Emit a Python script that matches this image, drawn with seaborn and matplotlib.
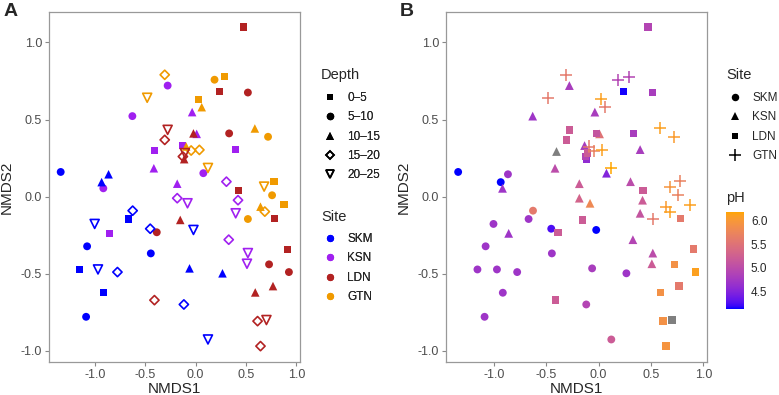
import numpy as np
import pandas as pd
import matplotlib
matplotlib.use("Agg")
import matplotlib.pyplot as plt
from matplotlib.lines import Line2D
from matplotlib.colors import LinearSegmentedColormap, Normalize
from matplotlib.colorbar import ColorbarBase
import seaborn as sns

sns.set_theme(style="white")
plt.rcParams["font.family"] = ["Liberation Sans", "DejaVu Sans"]

# ---- data ----
sites = ["SKM", "KSN", "LDN", "GTN"]
depths = ["0–5", "5–10", "10–15", "15–20", "20–25"]
site_colors = ["#0000FF", "#A020F0", "#B22222", "#F09A00"]

# groups of samples: site x depth, number of samples in each
group_site = ["SKM"] * 5 + ["KSN"] * 5 + ["LDN"] * 5 + ["GTN"] * 5
group_depth = depths * 4
group_n = [3, 4, 4, 4, 4,
           4, 4, 4, 4, 4,
           5, 5, 5, 5, 3,
           4, 4, 4, 4, 3]

nmds1 = [
    # SKM
    -0.667, -1.155, -0.913,
    -1.339, -1.077, -0.445, -1.087,
    -0.864, -0.933, -0.061, 0.266,
    -0.625, -0.451, -0.776, -0.117,
    -1.002, -0.022, -0.969, 0.122,
    # KSN
    0.397, -0.409, -0.133, -0.857,
    -0.278, -0.628, 0.076, -0.916,
    -0.035, 0.010, -0.415, -0.183,
    0.305, -0.183, 0.420, 0.328,
    -0.081, 0.397, 0.518, 0.509,
    # LDN
    0.472, 0.240, 0.423, 0.784, 0.908,
    0.518, 0.332, -0.386, 0.728, 0.925,
    -0.022, -0.114, -0.153, 0.767, 0.591,
    -0.307, -0.127, -0.409, 0.614, 0.643,
    -0.278, -0.107, 0.702,
    # GTN
    0.289, 0.024, 0.777, 0.876,
    0.187, 0.718, 0.758, 0.518,
    0.060, 0.587, -0.094, 0.643,
    -0.307, -0.045, 0.037, 0.686,
    -0.481, 0.122, 0.679,
]
nmds2 = [
    # SKM
    -0.145, -0.472, -0.623,
    0.160, -0.322, -0.368, -0.779,
    0.145, 0.094, -0.465, -0.497,
    -0.091, -0.208, -0.489, -0.699,
    -0.177, -0.216, -0.472, -0.926,
    # KSN
    0.305, 0.297, 0.331, -0.238,
    0.720, 0.522, 0.152, 0.054,
    0.548, 0.407, 0.184, 0.084,
    0.097, -0.010, -0.023, -0.279,
    -0.043, -0.108, -0.366, -0.435,
    # LDN
    1.100, 0.680, 0.039, -0.140, -0.340,
    0.675, 0.410, -0.231, -0.439, -0.489,
    0.410, 0.243, -0.151, -0.580, -0.621,
    0.368, 0.260, -0.671, -0.807, -0.969,
    0.433, 0.282, -0.800,
    # GTN
    0.777, 0.632, 0.100, -0.052,
    0.758, 0.388, 0.009, -0.145,
    0.580, 0.442, 0.325, -0.065,
    0.790, 0.299, 0.303, -0.097,
    0.641, 0.186, 0.065,
]
ph = [
    # SKM
    4.7, 4.7, 4.7,
    4.13, 4.7, 4.7, 4.7,
    4.7, 4.13, 4.8, 4.7,
    5.6, 4.25, 4.7, 4.9,
    4.7, 4.13, 4.7, 5.2,
    # KSN
    4.8, np.nan, 4.8, 4.7,
    4.8, 4.7, 4.5, 4.7,
    4.8, 5.5, 5.0, 5.2,
    5.0, 5.3, 5.2, 4.9,
    5.8, 5.1, 5.0, 5.2,
    # LDN
    4.9, 4.15, 5.2, 5.6, 5.6,
    4.8, 4.8, 5.2, 5.9, 6.1,
    5.1, 4.6, 5.2, 5.6, 5.9,
    5.2, 4.9, 5.2, 5.9, 5.95,
    5.2, 5.2, np.nan,
    # GTN
    4.9, 6.1, 5.7, 6.1,
    4.9, 6.05, 5.7, 5.6,
    5.6, 6.1, 5.6, 6.05,
    5.6, 5.7, 6.1, 6.1,
    5.6, 6.18, 5.95,
]

df = pd.DataFrame({
    "NMDS1": nmds1,
    "NMDS2": nmds2,
    "site": np.repeat(group_site, group_n),
    "depth": np.repeat(group_depth, group_n),
    "pH": ph,
})


# ggplot-like blue -> orange gradient (interpolated in CIELAB)
M = np.array([[0.4124, 0.3576, 0.1805],
              [0.2126, 0.7152, 0.0722],
              [0.0193, 0.1192, 0.9505]])
WHITE = np.array([0.95047, 1.0, 1.08883])


def to_lab(hexcol):
    rgb = np.array(matplotlib.colors.to_rgb(hexcol))
    lin = np.where(rgb <= 0.04045, rgb / 12.92, ((rgb + 0.055) / 1.055) ** 2.4)
    xyz = (M @ lin) / WHITE
    f = np.where(xyz > (6 / 29) ** 3, np.cbrt(xyz), xyz / (3 * (6 / 29) ** 2) + 4 / 29)
    return np.array([116 * f[1] - 16, 500 * (f[0] - f[1]), 200 * (f[1] - f[2])])


def from_lab(lab):
    fy = (lab[0] + 16) / 116
    f = np.array([fy + lab[1] / 500, fy, fy - lab[2] / 200])
    xyz = np.where(f > 6 / 29, f ** 3, 3 * (6 / 29) ** 2 * (f - 4 / 29)) * WHITE
    lin = np.clip(np.linalg.solve(M, xyz), 0, 1)
    rgb = np.where(lin <= 0.0031308, 12.92 * lin, 1.055 * lin ** (1 / 2.4) - 0.055)
    return np.clip(rgb, 0, 1)


lo, hi = to_lab("#0000FF"), to_lab("#FFA500")
ph_cmap = LinearSegmentedColormap.from_list(
    "ph", [from_lab(lo + t * (hi - lo)) for t in np.linspace(0, 1, 64)])
ph_norm = Normalize(np.nanmin(ph), np.nanmax(ph))

W, H = 779, 395
fig = plt.figure(figsize=(W / 100, H / 100), dpi=100)


def px_axes(x0, y0, x1, y1):
    return fig.add_axes([x0 / W, 1 - y1 / H, (x1 - x0) / W, (y1 - y0) / H])


ax_a = px_axes(49, 12, 300, 362)
ax_b = px_axes(446, 12, 707, 362)

grey_txt = "#4D4D4D"
for ax in (ax_a, ax_b):
    ax.set_xlim(-1.455, 1.035)
    ax.set_ylim(-1.072, 1.197)
    ax.set_xticks([-1.0, -0.5, 0.0, 0.5, 1.0])
    ax.set_yticks([-1.0, -0.5, 0.0, 0.5, 1.0])
    ax.xaxis.set_major_formatter(matplotlib.ticker.FormatStrFormatter("%.1f"))
    ax.yaxis.set_major_formatter(matplotlib.ticker.FormatStrFormatter("%.1f"))
    ax.tick_params(length=3, width=0.8, color="#888888", labelsize=9,
                   labelcolor=grey_txt, pad=2, bottom=True, left=True)
    for sp in ax.spines.values():
        sp.set_color("#999999")
        sp.set_linewidth(0.9)
    ax.set_xlabel("NMDS1", fontsize=11, labelpad=1)
    ax.set_ylabel("NMDS2", fontsize=11, labelpad=5)

# ---- panel A: colour = site, shape = depth ----
site_pal = dict(zip(sites, site_colors))
depth_markers = {"0–5": ("s", 26, False), "5–10": ("o", 32, False),
                 "10–15": ("^", 38, False), "15–20": ("D", 22, True),
                 "20–25": ("v", 42, True)}
for d in depths:
    m, s, hollow = depth_markers[d]
    sub = df[df.depth == d]
    sns.scatterplot(data=sub, x="NMDS1", y="NMDS2", hue="site", palette=site_pal,
                    marker=m, s=s, linewidth=0, legend=False, ax=ax_a)
    if hollow:
        coll = ax_a.collections[-1]
        cols = coll.get_facecolors()
        coll.set_facecolors("none")
        coll.set_edgecolors(cols)
        coll.set_linewidths(1.2)

# ---- panel B: colour = pH, shape = site ----
site_markers = {"SKM": ("o", 32), "KSN": ("^", 40), "LDN": ("s", 28), "GTN": ("+", 75)}
for st in sites:
    m, s = site_markers[st]
    sub = df[(df.site == st) & df.pH.notna()]
    sns.scatterplot(data=sub, x="NMDS1", y="NMDS2", hue="pH", palette=ph_cmap,
                    hue_norm=ph_norm, marker=m, s=s, linewidth=0 if m != "+" else 1.1,
                    legend=False, ax=ax_b)
    if m == "+":
        coll = ax_b.collections[-1]
        coll.set_edgecolors(ph_cmap(ph_norm(sub.pH.values)))
        coll.set_linewidths(1.1)
    na = df[(df.site == st) & df.pH.isna()]
    if len(na):
        sns.scatterplot(data=na, x="NMDS1", y="NMDS2", color="#7F7F7F",
                        marker=m, s=s, linewidth=0, legend=False, ax=ax_b)

# ---- legends (titles drawn as text, keys as untitled legends) ----
leg_kw = dict(frameon=False, loc="upper left", fontsize=8.5,
              handlelength=1.7, handletextpad=0.6,
              labelspacing=0.62, borderpad=0, borderaxespad=0)
title_kw = dict(fontsize=10.5, va="center", ha="left")

depth_handles = []
for d in depths:
    m, s, hollow = depth_markers[d]
    depth_handles.append(Line2D([], [], linestyle="", marker=m, color="black",
                                markerfacecolor="none" if hollow else "black",
                                markeredgewidth=1.2 if hollow else 0,
                                markersize=np.sqrt(s) * (0.9 if hollow else 0.95)))
fig.text(321 / W, 1 - 75 / H, "Depth", **title_kw)
leg1 = fig.legend(depth_handles, depths, bbox_to_anchor=(320 / W, 1 - 92 / H), **leg_kw)

site_handles = [Line2D([], [], linestyle="", marker="o", color=c,
                       markeredgewidth=0, markersize=5.2) for c in site_colors]
fig.text(321 / W, 1 - 217 / H, "Site", **title_kw)
leg2 = fig.legend(site_handles, sites, bbox_to_anchor=(320 / W, 1 - 233 / H), **leg_kw)
fig.add_artist(leg1)

shape_handles = []
for st in sites:
    m, s = site_markers[st]
    shape_handles.append(Line2D([], [], linestyle="", marker=m, color="black",
                                markeredgewidth=1.1 if m == "+" else 0,
                                markersize=np.sqrt(s) * 0.95))
fig.text(726 / W, 1 - 75 / H, "Site", **title_kw)
leg3 = fig.legend(shape_handles, sites, bbox_to_anchor=(725 / W, 1 - 92 / H), **leg_kw)
fig.add_artist(leg2)

fig.text(726 / W, 1 - 198 / H, "pH", **title_kw)
cax = px_axes(725.5, 212, 744, 309)
cb = ColorbarBase(cax, cmap=ph_cmap, norm=ph_norm, orientation="vertical")
cb.set_ticks([4.5, 5.0, 5.5, 6.0])
cb.outline.set_visible(False)
cax.tick_params(length=3, width=0.8, color="white", direction="in",
                labelsize=8.5, pad=5, right=True, left=True)

# panel tags
fig.text(4 / W, 1 - 12 / H, "A", fontsize=14, fontweight="bold", va="center")
fig.text(400 / W, 1 - 12 / H, "B", fontsize=14, fontweight="bold", va="center")

fig.savefig("out.png", dpi=100)
